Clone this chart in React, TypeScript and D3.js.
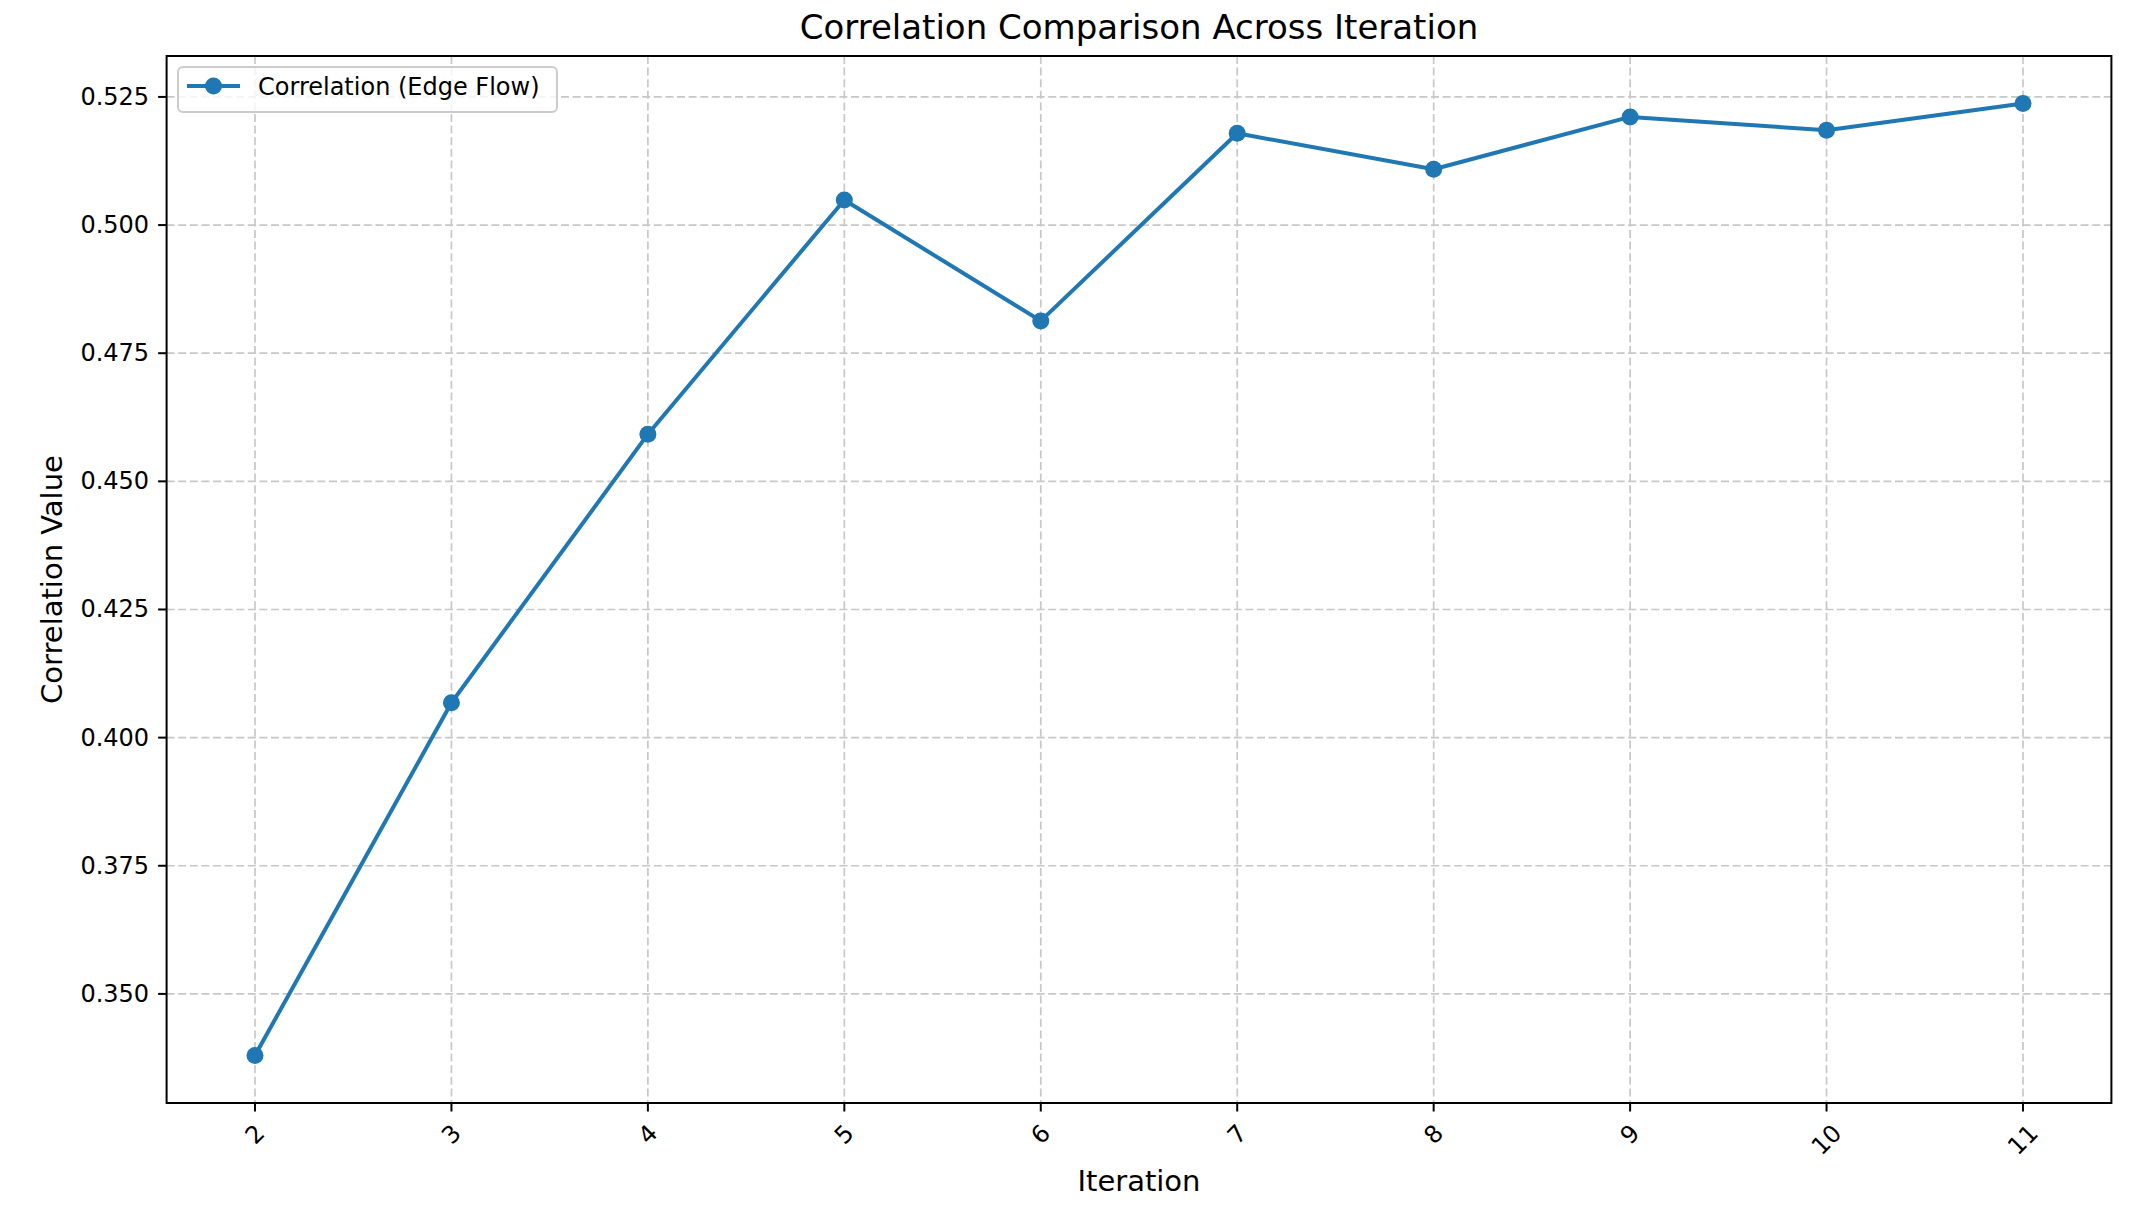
import React from "react";
import * as d3 from "d3";

const iterations = [2, 3, 4, 5, 6, 7, 8, 9, 10, 11];
const correlation = [0.338, 0.4068, 0.4592, 0.5049, 0.4813, 0.5179, 0.5109, 0.5211, 0.5185, 0.5237];
const yTicks = [0.35, 0.375, 0.4, 0.425, 0.45, 0.475, 0.5, 0.525];
const seriesName = "Correlation (Edge Flow)";
const titleText = "Correlation Comparison Across Iteration";
const xLabel = "Iteration";
const yLabel = "Correlation Value";

const W = 2138;
const H = 1209;
const L = 166.6, R = 2111.4, T = 56, B = 1103;
const BLUE = "#1f77b4";
const FONT = "'DejaVu Sans', sans-serif";

export default function App() {
  const xMin = d3.min(iterations)!, xMax = d3.max(iterations)!;
  const xPad = (xMax - xMin) * 0.05;
  const x = d3.scaleLinear().domain([xMin - xPad, xMax + xPad]).range([L, R]);
  const yMin = d3.min(correlation)!, yMax = d3.max(correlation)!;
  const yPad = (yMax - yMin) * 0.05;
  const y = d3.scaleLinear().domain([yMin - yPad, yMax + yPad]).range([B, T]);
  const line = d3.line<number>().x((_, i) => x(iterations[i])).y((d) => y(d));
  const tickLen = 8.5;
  const tickFs = 24;

  return (
    <svg width={W} height={H} style={{ position: "absolute", left: 0, top: 0, background: "#fff" }} fontFamily={FONT}>
      <rect x={0} y={0} width={W} height={H} fill="#fff" />
      {/* grid */}
      <g stroke="#c8c8c8" strokeWidth={1.7} strokeDasharray="8,3.6">
        {iterations.map((v) => (
          <line key={"gx" + v} x1={x(v)} x2={x(v)} y1={T} y2={B} />
        ))}
        {yTicks.map((v) => (
          <line key={"gy" + v} x1={L} x2={R} y1={y(v)} y2={y(v)} />
        ))}
      </g>
      {/* data line */}
      <path d={line(correlation) || ""} fill="none" stroke={BLUE} strokeWidth={4} strokeLinejoin="round" />
      {correlation.map((v, i) => (
        <circle key={"m" + i} cx={x(iterations[i])} cy={y(v)} r={8.5} fill={BLUE} />
      ))}
      {/* spines */}
      <rect x={L} y={T} width={R - L} height={B - T} fill="none" stroke="#000" strokeWidth={2} />
      {/* y ticks */}
      {yTicks.map((v) => (
        <g key={"yt" + v}>
          <line x1={L - tickLen} x2={L} y1={y(v)} y2={y(v)} stroke="#000" strokeWidth={2} />
          <text x={L - tickLen - 9} y={y(v)} textAnchor="end" dominantBaseline="central" fontSize={tickFs} fill="#000">
            {d3.format(".3f")(v)}
          </text>
        </g>
      ))}
      {/* x ticks */}
      {iterations.map((v) => {
        const label = String(v);
        const w = label.length * 0.636 * tickFs;
        const h = tickFs;
        const cy = B + tickLen + 9 + (w + h) / (2 * Math.SQRT2);
        return (
          <g key={"xt" + v}>
            <line x1={x(v)} x2={x(v)} y1={B} y2={B + tickLen} stroke="#000" strokeWidth={2} />
            <text
              transform={`translate(${x(v)},${cy}) rotate(-45)`}
              textAnchor="middle"
              dominantBaseline="central"
              fontSize={tickFs}
              fill="#000"
            >
              {label}
            </text>
          </g>
        );
      })}
      {/* axis labels */}
      <text x={(L + R) / 2} y={1181} textAnchor="middle" dominantBaseline="central" fontSize={29} fill="#000">
        {xLabel}
      </text>
      <text
        transform={`translate(52,${(T + B) / 2}) rotate(-90)`}
        textAnchor="middle"
        dominantBaseline="central"
        fontSize={29}
        fill="#000"
      >
        {yLabel}
      </text>
      {/* title */}
      <text x={(L + R) / 2} y={39} textAnchor="middle" fontSize={34} fill="#000">
        {titleText}
      </text>
      {/* legend */}
      <g>
        <rect x={178} y={67} width={379} height={45} rx={5} ry={5} fill="#fff" fillOpacity={0.8} stroke="#cccccc" strokeWidth={2} />
        <line x1={187} x2={240} y1={86} y2={86} stroke={BLUE} strokeWidth={4} />
        <circle cx={213.5} cy={86} r={8.5} fill={BLUE} />
        <text x={258} y={87} dominantBaseline="central" fontSize={24} fill="#000">
          {seriesName}
        </text>
      </g>
    </svg>
  );
}
